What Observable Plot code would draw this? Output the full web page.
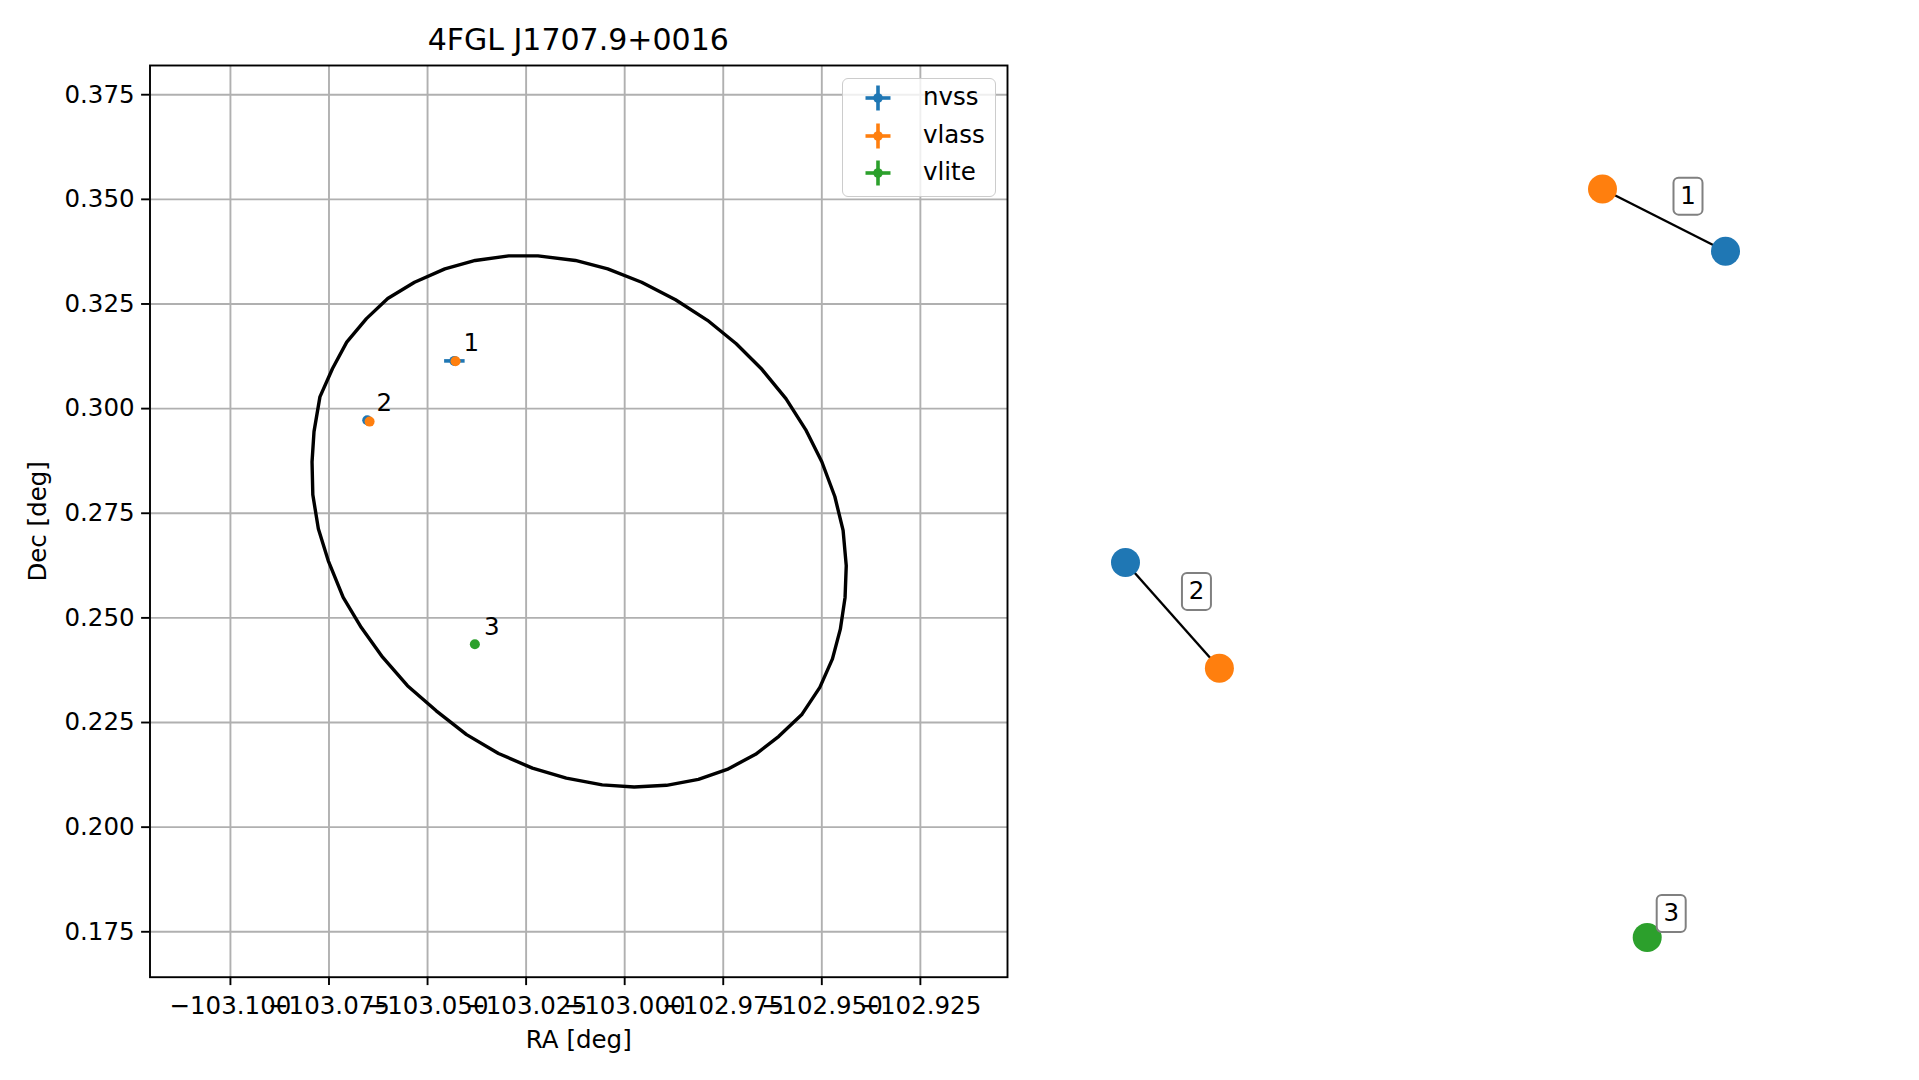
<!DOCTYPE html>
<html><head><meta charset="utf-8">
<script src="https://cdn.jsdelivr.net/npm/d3@7"></script>
<script src="https://cdn.jsdelivr.net/npm/@observablehq/plot@0.6"></script>
<style>
body{margin:0;background:#fff;}
#wrap{position:relative;width:1919px;height:1080px;font-family:"DejaVu Sans",sans-serif;color:#000;overflow:hidden;}
.abs{position:absolute;}
</style></head><body><div id="wrap"></div>
<script>
// ---------- data ----------
const chartTitle = "4FGL J1707.9+0016";
const xLabel = "RA [deg]";
const yLabel = "Dec [deg]";
const catalogs = ["nvss", "vlass", "vlite"];
const catalogColors = ["#1f77b4", "#ff7f0e", "#2ca02c"];

const srcCatalog = ["nvss", "nvss", "vlass", "vlass", "vlite"];
const srcId = [1, 2, 1, 2, 3];
const srcRA = [-103.0432, -103.0653, -103.0429, -103.0647, -103.0380];
const srcDec = [0.3114, 0.2972, 0.3113, 0.2969, 0.2437];
const srcRAErr = [0.0026, 0.0004, 0.0001, 0.0001, 0.0002];
const srcDecErr = [0.0004, 0.0004, 0.0001, 0.0001, 0.0002];

const ellipseRA = [-103.0791, -103.0793, -103.0788, -103.0773, -103.0741, -103.0705, -103.0655, -103.0601,
  -103.0533, -103.0456, -103.0379, -103.0294, -103.0220, -103.0125, -103.0043, -102.9957, -102.9871,
  -102.9790, -102.9717, -102.9654, -102.9591, -102.9541, -102.9500, -102.9467, -102.9446, -102.9438,
  -102.9441, -102.9453, -102.9473, -102.9505, -102.9550, -102.9609, -102.9668, -102.9740, -102.9813,
  -102.9894, -102.9976, -103.0057, -103.0148, -103.0234, -103.0320, -103.0401, -103.0478, -103.0551,
  -103.0614, -103.0668, -103.0714, -103.0752, -103.0777, -103.0791];
const ellipseDec = [0.2794, 0.2873, 0.2945, 0.3028, 0.3096, 0.3159, 0.3215, 0.3263,
  0.3302, 0.3334, 0.3354, 0.3365, 0.3365, 0.3354, 0.3334, 0.3302, 0.3260,
  0.3211, 0.3155, 0.3096, 0.3024, 0.2950, 0.2873, 0.2790, 0.2709, 0.2625,
  0.2549, 0.2473, 0.2402, 0.2334, 0.2270, 0.2217, 0.2174, 0.2138, 0.2114,
  0.2100, 0.2096, 0.2101, 0.2117, 0.2141, 0.2176, 0.2221, 0.2278, 0.2338,
  0.2406, 0.2477, 0.2549, 0.2637, 0.2713, 0.2794];

const xTicks = [-103.100, -103.075, -103.050, -103.025, -103.000, -102.975, -102.950, -102.925];
const yTicks = [0.175, 0.200, 0.225, 0.250, 0.275, 0.300, 0.325, 0.350, 0.375];
const xDomain = [-103.1204, -102.9029];
const yDomain = [0.16415, 0.38198];

// association graph (layout coordinates)
const nodeCatalog = ["vlass", "nvss", "nvss", "vlass", "vlite"];
const nodeGroup = [1, 1, 2, 2, 3];
const nodeX = [0.590, 1.000, -1.000, -0.687, 0.739];
const nodeY = [0.996, 0.830, 0.000, -0.282, -1.000];
const edgeFrom = [0, 2];
const edgeTo = [1, 3];

// ---------- build tables ----------
const sources = srcId.map((id, i) => ({id, catalog: srcCatalog[i], ra: srcRA[i], dec: srcDec[i], raErr: srcRAErr[i], decErr: srcDecErr[i]}));
const ellipse = ellipseRA.map((ra, i) => ({ra, dec: ellipseDec[i]}));
const firstById = Array.from(d3.group(sources, d => d.id), ([id, v]) => ({id: String(id), ra: v[0].ra, dec: v[0].dec}));
const nodes = nodeX.map((x, i) => ({x, y: nodeY[i], catalog: nodeCatalog[i], group: nodeGroup[i]}));
const edges = edgeFrom.map((f, i) => ({a: nodes[f], b: nodes[edgeTo[i]]}));
const groupLabels = Array.from(d3.group(nodes, d => d.group), ([g, v]) => ({text: String(g), x: d3.mean(v, d => d.x), y: d3.mean(v, d => d.y)}));

const fmtMinus = d => (d < 0 ? "\u2212" : "") + Math.abs(d).toFixed(3);
const colorScale = {domain: catalogs, range: catalogColors};

const wrap = document.getElementById("wrap");

// ---------- left panel ----------
const left = Plot.plot({
  width: 1040, height: 1080,
  marginLeft: 149.5, marginRight: 33, marginTop: 65, marginBottom: 103.3,
  style: {fontFamily: "DejaVu Sans, sans-serif", fontSize: "24.5px", background: "transparent", color: "#000"},
  x: {domain: xDomain, ticks: xTicks},
  y: {domain: yDomain, ticks: yTicks},
  color: colorScale,
  marks: [
    Plot.gridX(xTicks, {stroke: "#b0b0b0", strokeOpacity: 1, strokeWidth: 1.9}),
    Plot.gridY(yTicks, {stroke: "#b0b0b0", strokeOpacity: 1, strokeWidth: 1.9}),
    Plot.line(ellipse, {x: "ra", y: "dec", stroke: "#000", strokeWidth: 3.4}),
    Plot.link(sources, {x1: d => d.ra - d.raErr, x2: d => d.ra + d.raErr, y1: "dec", y2: "dec", stroke: "catalog", strokeWidth: 3.6}),
    Plot.link(sources, {x1: "ra", x2: "ra", y1: d => d.dec - d.decErr, y2: d => d.dec + d.decErr, stroke: "catalog", strokeWidth: 3.6}),
    Plot.dot(sources, {x: "ra", y: "dec", fill: "catalog", r: 5}),
    Plot.text(firstById, {x: "ra", y: "dec", text: "id", dx: 17, dy: -17.5, fontSize: 24.5, fill: "#000"}),
    Plot.frame({stroke: "#000", strokeWidth: 1.9}),
    Plot.axisX(xTicks, {tickFormat: fmtMinus, tickSize: 8.4, tickPadding: 11, strokeWidth: 1.9, label: xLabel, labelArrow: "none", labelAnchor: "center", labelOffset: 71, fontSize: 24.5}),
    Plot.axisY(yTicks, {tickFormat: d => d.toFixed(3), tickSize: 8.4, tickPadding: 7, strokeWidth: 1.9, label: yLabel, labelArrow: "none", labelAnchor: "center", labelOffset: 121, fontSize: 24.5})
  ]
});
left.classList.add("abs");
left.style.left = "0px"; left.style.top = "0px";
wrap.appendChild(left);

// ---------- right panel ----------
const roundRect = {draw(ctx) {
  const w = 14.5, h = 18.5, r = 5;
  ctx.moveTo(-w + r, -h);
  ctx.lineTo(w - r, -h);
  ctx.arcTo(w, -h, w, -h + r, r);
  ctx.lineTo(w, h - r);
  ctx.arcTo(w, h, w - r, h, r);
  ctx.lineTo(-w + r, h);
  ctx.arcTo(-w, h, -w, h - r, r);
  ctx.lineTo(-w, -h + r);
  ctx.arcTo(-w, -h, -w + r, -h, r);
  ctx.closePath();
}};
const right = Plot.plot({
  width: 879, height: 1080,
  marginLeft: 85, marginRight: 194, marginTop: 187, marginBottom: 143,
  style: {fontFamily: "DejaVu Sans, sans-serif", fontSize: "24px", background: "transparent", color: "#000"},
  x: {domain: [-1, 1], axis: null},
  y: {domain: [-1, 1], axis: null},
  color: colorScale,
  marks: [
    Plot.link(edges, {x1: d => d.a.x, y1: d => d.a.y, x2: d => d.b.x, y2: d => d.b.y, stroke: "#000", strokeWidth: 2.4}),
    Plot.dot(nodes, {x: "x", y: "y", fill: "catalog", r: 14.5}),
    Plot.dot(groupLabels, {x: "x", y: "y", dx: 24, dy: -24, symbol: roundRect, r: 10, fill: "#fff", stroke: "#808080", strokeWidth: 2}),
    Plot.text(groupLabels, {x: "x", y: "y", text: "text", dx: 24, dy: -24, fontSize: 24.5, fill: "#000"})
  ]
});
right.classList.add("abs");
right.style.left = "1040px"; right.style.top = "0px";
wrap.appendChild(right);

// ---------- title ----------
const t = document.createElement("div");
t.className = "abs";
t.textContent = chartTitle;
Object.assign(t.style, {left: "149.5px", width: "857.5px", top: "23px", textAlign: "center", fontSize: "30px", lineHeight: "34px"});
wrap.appendChild(t);

// ---------- legend ----------
const lg = document.createElement("div");
lg.className = "abs";
Object.assign(lg.style, {left: "842.4px", top: "78.4px", width: "151.6px", height: "117px", background: "rgba(255,255,255,0.8)", border: "1.9px solid #cccccc", borderRadius: "6px"});
wrap.appendChild(lg);
catalogs.forEach((c, i) => {
  const cy = [97.5, 135.5, 172.5][i];
  const ns = "http://www.w3.org/2000/svg";
  const s = document.createElementNS(ns, "svg");
  s.setAttribute("width", 30); s.setAttribute("height", 30);
  s.setAttribute("class", "abs");
  s.style.left = (878 - 15) + "px"; s.style.top = (cy - 15) + "px";
  s.innerHTML = `<line x1="2.5" y1="15" x2="27.5" y2="15" stroke="${catalogColors[i]}" stroke-width="3.6"/>
    <line x1="15" y1="2.5" x2="15" y2="27.5" stroke="${catalogColors[i]}" stroke-width="3.6"/>
    <circle cx="15" cy="15" r="4.8" fill="${catalogColors[i]}"/>`;
  wrap.appendChild(s);
  const tx = document.createElement("div");
  tx.className = "abs";
  tx.textContent = c;
  Object.assign(tx.style, {left: "923px", top: (cy - 15) + "px", fontSize: "24.5px", lineHeight: "28px"});
  wrap.appendChild(tx);
});
</script></body></html>
